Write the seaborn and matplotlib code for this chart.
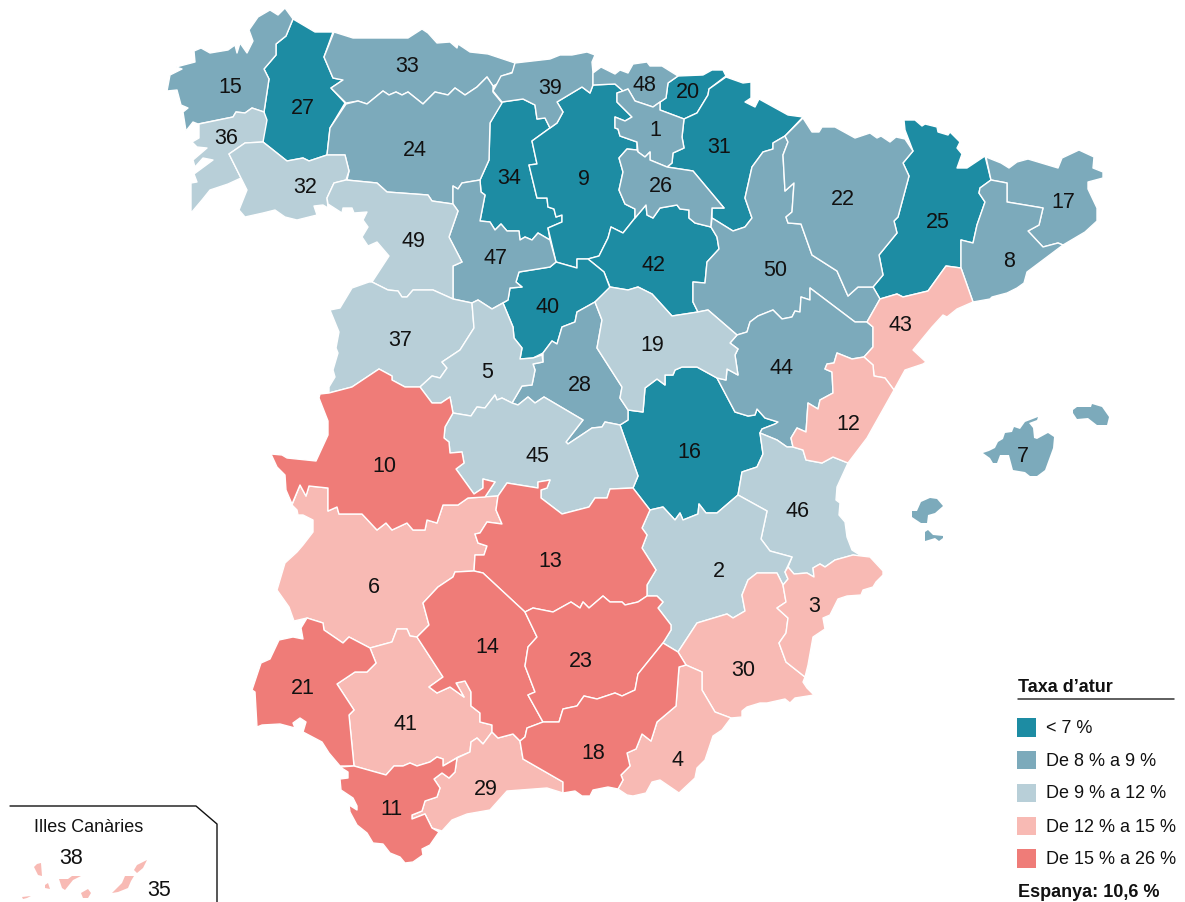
import matplotlib
matplotlib.use('Agg')
import matplotlib.pyplot as plt
from matplotlib.patches import Rectangle
import seaborn as sns

# ============================================================
# Data: unemployment classes and province outlines (image pixels)
# ============================================================
legend_labels = ['< 7 %', 'De 8 % a 9 %', 'De 9 % a 12 %', 'De 12 % a 15 %', 'De 15 % a 26 %']
legend_colors = ['#1d8ca3', '#7caabb', '#b8cfd8', '#f8bab4', '#ef7c78']

class_1 = [27, 34, 9, 20, 31, 42, 40, 25, 16]
class_2 = [15, 33, 24, 39, 48, 1, 26, 47, 28, 50, 22, 44, 17, 8, 7]
class_3 = [36, 32, 49, 37, 5, 19, 45, 46, 2]
class_4 = [43, 12, 6, 41, 30, 3, 4, 29, 38, 35]
class_5 = [10, 13, 14, 23, 21, 18, 11]

label_ids = [15, 27, 33, 36, 24, 39, 48, 20, 1, 34, 9, 31, 26, 22, 17, 32, 49, 47, 42, 25, 50, 8, 40, 43, 37,
             19, 5, 44, 28, 12, 45, 16, 10, 46, 13, 2, 6, 3, 14, 23, 30, 21, 41, 18, 4, 29, 11, 7, 38, 35]
label_x = [230, 303, 407, 226, 415, 550, 644, 688, 655, 509, 584, 719, 661, 843, 1063, 305, 413, 496, 654, 938, 775, 1009, 548, 900, 400,
           652, 487, 782, 580, 848, 537, 689, 384, 798, 550, 719, 374, 814, 487, 581, 743, 303, 405, 593, 677, 486, 391, 1023, 71, 159]
label_y = [86, 107, 65, 137, 149, 87, 84, 91, 129, 177, 178, 146, 185, 198, 201, 186, 240, 257, 264, 221, 269, 260, 306, 324, 339,
           344, 371, 367, 384, 423, 455, 451, 465, 510, 560, 570, 586, 605, 646, 660, 669, 687, 723, 752, 759, 788, 808, 455, 857, 889]

p15 = [(285,8),(293,19),(286,36),(276,44),(276,55),(264,69),(269,79),(264,112),(252,108),(245,113),(236,112),(233,117),(198,124),(193,122),(186,131),(183,112),(188,108),(181,105),(177,90),(167,91),(170,75),(182,69),(176,67),(195,62),(194,51),(201,48),(210,53),(228,50),(235,45),(237,53),(240,43),(247,53),(253,41),(249,30),(258,17),(270,10),(278,15)]
p27 = [(293,19),(315,32),(333,32),(324,57),(333,78),(343,80),(331,88),(345,103),(330,128),(327,155),(309,161),(303,158),(287,161),(263,142),(264,112),(269,79),(264,69),(276,55),(276,44),(286,36)]
p36 = [(264,112),(267,120),(263,142),(245,143),(229,154),(241,178),(228,184),(210,190),(202,200),(191,213),(191,183),(197,182),(194,174),(213,160),(203,158),(195,167),(193,160),(207,148),(197,147),(192,142),(199,138),(199,124),(233,117),(236,112),(245,113),(252,108)]
p32 = [(263,142),(287,161),(303,158),(309,161),(327,155),(345,155),(349,171),(346,180),(334,183),(327,198),(328,208),(323,205),(314,206),(317,215),(297,220),(285,217),(275,210),(263,213),(245,217),(239,210),(247,190),(241,178),(229,154),(245,143)]
p33 = [(334,32),(353,38),(408,38),(422,29),(428,33),(437,43),(450,42),(457,48),(458,44),(470,52),(488,54),(515,63),(513,72),(502,76),(499,83),(493,86),(487,77),(477,87),(465,95),(455,88),(448,95),(435,92),(423,104),(408,92),(402,95),(396,92),(389,95),(383,91),(367,104),(358,101),(346,103),(331,88),(343,80),(333,78),(324,57)]
p24 = [(346,104),(358,101),(367,104),(383,91),(389,95),(396,92),(402,95),(408,92),(423,104),(435,92),(448,95),(455,88),(465,95),(477,87),(487,77),(493,86),(493,92),(502,103),(490,123),(489,160),(480,180),(462,183),(458,189),(453,186),(453,204),(432,201),(428,195),(387,192),(377,183),(347,180),(349,171),(345,155),(327,155),(330,128)]
p49 = [(346,180),(377,183),(387,192),(428,195),(432,201),(453,204),(458,211),(449,237),(462,262),(453,266),(453,299),(433,290),(413,290),(407,297),(402,297),(398,291),(388,290),(372,282),(389,256),(377,242),(368,246),(362,237),(368,227),(363,220),(367,212),(354,213),(352,208),(343,208),(342,213),(328,204),(327,198),(334,183)]
p39 = [(515,63),(550,59),(560,55),(572,55),(587,52),(595,55),(592,62),(593,73),(593,85),(590,93),(582,87),(557,102),(563,112),(557,123),(550,128),(545,118),(537,119),(535,105),(523,99),(502,102),(493,91),(501,76),(512,73)]
p48 = [(593,73),(601,67),(615,74),(620,70),(628,73),(633,64),(647,62),(650,66),(662,66),(678,76),(668,83),(666,98),(653,107),(635,101),(628,89),(623,91),(615,84),(593,85)]
p20 = [(678,76),(703,75),(712,70),(723,70),(726,76),(709,89),(708,95),(697,113),(684,119),(660,110),(660,102),(666,98),(668,83)]
p31 = [(726,77),(743,83),(751,82),(751,98),(745,102),(755,107),(759,99),(788,115),(803,117),(785,136),(773,143),(773,149),(763,152),(752,167),(745,198),(752,218),(745,227),(733,231),(712,218),(712,208),(724,208),(693,171),(667,167),(672,163),(673,153),(684,148),(682,137),(684,119),(697,113),(708,95),(709,89)]
p1 = [(623,91),(628,89),(635,101),(653,107),(660,102),(660,110),(684,119),(682,137),(684,148),(673,153),(672,163),(667,167),(650,160),(650,152),(645,157),(638,152),(637,142),(620,136),(618,129),(615,128),(615,117),(625,121),(632,117),(617,102),(617,93)]
p9 = [(557,102),(582,87),(590,93),(593,85),(615,84),(623,91),(617,93),(617,102),(632,117),(625,121),(615,117),(615,128),(618,129),(620,136),(637,142),(637,150),(627,149),(619,158),(623,172),(619,190),(625,204),(635,209),(635,218),(623,233),(611,227),(608,238),(599,256),(588,259),(577,259),(577,268),(556,262),(548,228),(562,222),(562,215),(556,217),(554,209),(548,207),(547,198),(537,198),(529,165),(537,164),(532,141),(550,128),(557,123),(563,112)]
p34 = [(502,102),(523,99),(535,105),(537,119),(545,118),(550,128),(532,141),(537,164),(529,165),(537,198),(547,198),(548,207),(554,209),(556,217),(562,215),(562,222),(548,228),(550,240),(538,233),(532,240),(525,237),(520,240),(519,231),(507,231),(501,224),(495,230),(490,222),(480,221),(485,195),(481,192),(480,180),(489,160),(490,123)]
p47 = [(453,186),(458,189),(462,183),(480,180),(481,192),(485,195),(480,221),(490,222),(495,230),(501,224),(507,231),(519,231),(520,240),(525,237),(532,240),(538,233),(550,240),(556,262),(550,267),(519,272),(516,282),(522,287),(510,288),(508,300),(492,309),(478,300),(472,303),(453,299),(453,266),(462,262),(449,237),(458,211),(453,204)]
p26 = [(627,149),(637,150),(638,152),(645,157),(650,152),(650,160),(667,167),(693,171),(724,208),(712,208),(711,227),(695,223),(689,218),(689,210),(680,209),(677,205),(660,208),(653,218),(647,215),(646,205),(635,218),(635,209),(625,204),(619,190),(623,172),(619,158)]
p42 = [(588,259),(599,256),(608,238),(611,227),(623,233),(635,218),(646,205),(647,215),(653,218),(660,208),(677,205),(680,209),(689,210),(689,218),(695,223),(711,227),(717,237),(719,249),(707,262),(705,283),(693,282),(693,302),(698,312),(672,316),(652,294),(638,287),(628,290),(610,287),(604,272)]
p40 = [(556,262),(577,268),(577,259),(588,259),(604,272),(610,288),(595,302),(577,312),(575,322),(562,327),(557,344),(552,341),(543,353),(533,358),(520,359),(522,348),(514,338),(513,327),(503,303),(508,300),(510,288),(522,287),(516,282),(519,272),(550,267)]
p37 = [(372,282),(388,290),(398,291),(402,297),(407,297),(413,290),(433,290),(453,299),(472,303),(474,328),(460,350),(442,362),(447,368),(440,378),(432,376),(420,387),(405,387),(392,380),(392,376),(379,369),(352,387),(329,393),(329,387),(335,377),(333,370),(338,353),(336,348),(339,332),(330,310),(340,308),(352,288),(369,282)]
p5 = [(472,303),(478,300),(492,309),(503,303),(513,327),(514,338),(522,348),(520,359),(533,358),(542,355),(543,362),(533,364),(535,370),(532,385),(522,386),(512,403),(502,398),(497,400),(495,395),(485,408),(477,407),(471,416),(453,413),(450,397),(441,403),(432,403),(420,387),(432,376),(440,378),(447,368),(442,362),(460,350),(474,328)]
p28 = [(595,302),(602,320),(597,348),(622,387),(620,398),(628,410),(628,420),(620,425),(605,422),(602,427),(592,428),(568,444),(566,442),(583,420),(544,397),(535,403),(528,397),(518,405),(512,403),(522,386),(532,385),(535,370),(533,364),(543,362),(543,353),(552,341),(557,344),(562,327),(575,322),(577,312)]
p19 = [(595,302),(610,287),(628,290),(638,287),(652,294),(672,316),(698,312),(708,310),(737,335),(730,343),(738,349),(735,355),(738,375),(727,369),(726,380),(717,378),(697,367),(682,367),(675,370),(673,375),(665,375),(665,385),(657,379),(645,388),(643,412),(628,410),(620,398),(622,387),(597,348),(602,320)]
p50 = [(785,136),(788,142),(783,155),(785,191),(794,183),(792,212),(786,217),(788,223),(801,224),(812,255),(837,271),(848,296),(858,287),(873,287),(880,299),(867,322),(855,322),(810,288),(810,300),(801,297),(800,312),(795,311),(792,317),(782,319),(773,310),(758,316),(750,322),(747,332),(737,335),(708,310),(698,312),(693,302),(693,282),(705,283),(707,262),(719,249),(717,237),(711,227),(712,218),(733,231),(745,227),(752,218),(745,198),(752,167),(763,152),(773,149),(773,143)]
p22 = [(803,118),(812,132),(819,132),(822,127),(835,127),(855,138),(870,133),(877,138),(881,136),(890,142),(896,137),(905,139),(913,151),(903,163),(909,176),(898,217),(894,221),(897,233),(879,255),(883,275),(873,287),(858,287),(848,296),(837,271),(812,255),(801,224),(788,223),(786,217),(792,212),(794,183),(785,191),(783,155),(788,142),(785,136)]
p25 = [(904,120),(915,120),(922,126),(925,124),(937,127),(938,132),(948,135),(950,132),(960,142),(957,148),(962,154),(957,168),(967,168),(985,156),(991,180),(980,188),(979,193),(985,202),(977,225),(973,243),(961,240),(961,268),(946,266),(928,291),(903,297),(897,294),(880,299),(873,287),(883,275),(879,255),(897,233),(894,221),(898,217),(909,176),(903,163),(913,151),(905,130)]
p17 = [(986,157),(1001,163),(1009,168),(1017,162),(1028,159),(1058,168),(1062,158),(1079,150),(1094,157),(1093,168),(1103,172),(1103,178),(1088,182),(1088,189),(1097,208),(1097,221),(1085,232),(1063,245),(1058,243),(1043,247),(1028,231),(1039,225),(1043,208),(1007,202),(1007,183),(991,180)]
p8 = [(991,180),(1007,183),(1007,202),(1043,208),(1039,225),(1028,231),(1043,247),(1058,243),(1063,245),(1027,272),(1024,283),(1017,288),(1007,293),(992,297),(990,299),(973,302),(961,268),(961,240),(973,243),(977,225),(985,202),(979,193),(980,188)]
p43 = [(946,266),(961,268),(973,302),(957,309),(947,317),(943,315),(932,327),(913,350),(926,362),(923,364),(905,370),(894,390),(885,378),(874,376),(873,365),(864,357),(873,347),(873,327),(867,322),(880,299),(897,294),(903,297),(928,291)]
p44 = [(855,322),(810,288),(810,300),(801,297),(800,312),(795,311),(792,317),(782,319),(773,310),(758,316),(750,322),(747,332),(737,335),(730,343),(738,349),(735,355),(738,375),(727,369),(726,380),(717,378),(735,412),(748,416),(755,415),(757,409),(765,418),(778,422),(775,424),(762,429),(760,433),(777,440),(787,447),(793,447),(791,438),(797,428),(806,432),(808,403),(818,409),(820,400),(833,393),(832,372),(825,369),(827,364),(834,363),(837,353),(852,359),(864,357),(873,347),(873,327),(867,322)]
p12 = [(837,353),(852,359),(864,357),(873,365),(874,376),(885,378),(894,390),(867,438),(848,463),(833,457),(822,463),(806,460),(803,450),(793,447),(791,438),(797,428),(806,432),(808,403),(818,409),(820,400),(833,393),(832,372),(825,369),(827,364),(834,363)]
p16 = [(717,378),(735,412),(748,416),(755,415),(757,409),(765,418),(778,422),(775,424),(762,429),(760,433),(763,454),(757,467),(742,472),(738,495),(717,513),(706,513),(699,504),(698,514),(683,520),(680,513),(675,520),(663,507),(650,510),(633,488),(638,476),(620,425),(628,420),(628,410),(643,412),(645,388),(657,379),(665,385),(665,375),(673,375),(675,370),(682,367),(697,367)]
p45 = [(453,413),(471,416),(477,407),(485,408),(495,395),(497,400),(502,398),(512,403),(518,405),(528,397),(535,403),(544,397),(583,420),(566,442),(568,444),(592,428),(602,427),(605,422),(620,425),(638,476),(633,488),(610,489),(607,498),(595,498),(589,507),(562,514),(541,498),(541,490),(547,488),(550,480),(538,482),(538,488),(507,483),(498,496),(485,497),(495,482),(483,479),(483,488),(474,494),(456,469),(464,463),(462,452),(450,453),(449,442),(444,438),(445,427)]
p10 = [(379,369),(392,376),(392,380),(405,387),(420,387),(432,403),(441,403),(450,397),(453,413),(445,427),(444,438),(449,442),(450,453),(462,452),(464,463),(456,469),(474,494),(483,488),(483,479),(495,482),(485,497),(468,498),(458,505),(443,505),(437,523),(427,520),(425,530),(413,530),(407,523),(392,530),(386,523),(377,530),(362,514),(339,514),(337,507),(328,511),(328,488),(309,486),(306,496),(300,485),(292,504),(286,490),(285,475),(277,467),(271,454),(282,455),(287,458),(316,461),(328,435),(328,421),(319,398),(320,394),(329,393),(352,387)]
p6 = [(300,485),(306,496),(309,486),(328,488),(328,511),(337,507),(339,514),(362,514),(377,530),(386,523),(392,530),(407,523),(413,530),(425,530),(427,520),(437,523),(443,505),(458,505),(468,498),(498,496),(496,510),(502,524),(487,522),(480,533),(475,534),(478,543),(487,546),(484,555),(475,555),(474,571),(455,572),(453,577),(438,587),(423,603),(429,625),(417,637),(410,636),(407,629),(397,629),(392,642),(370,648),(349,637),(343,643),(324,630),(323,623),(307,618),(294,621),(289,607),(277,590),(285,563),(297,552),(303,545),(313,532),(313,520),(303,515),(298,515),(297,510),(292,505)]
p13 = [(507,483),(538,488),(538,482),(550,480),(547,488),(541,490),(541,498),(562,514),(589,507),(595,498),(607,498),(610,489),(633,488),(650,510),(642,528),(647,535),(642,548),(656,570),(647,585),(647,596),(638,602),(625,605),(622,602),(610,602),(603,596),(589,608),(583,602),(580,608),(571,602),(553,612),(533,608),(525,612),(483,573),(474,571),(475,555),(484,555),(487,546),(478,543),(475,534),(480,533),(487,522),(502,524),(496,510),(498,496)]
p2 = [(650,510),(663,507),(675,520),(680,513),(683,520),(698,514),(699,504),(706,513),(717,513),(738,495),(767,511),(761,539),(770,551),(792,557),(785,572),(788,579),(783,585),(777,573),(757,573),(748,580),(742,595),(745,611),(733,618),(727,614),(697,623),(678,652),(663,643),(671,630),(671,625),(658,608),(663,602),(657,596),(647,596),(647,585),(656,570),(642,548),(647,535),(642,528)]
p46 = [(760,433),(777,440),(787,447),(793,447),(803,450),(806,460),(822,463),(833,457),(848,463),(837,487),(836,500),(840,503),(839,515),(845,522),(847,537),(852,550),(863,557),(853,555),(835,560),(825,567),(820,564),(813,568),(814,577),(807,573),(794,574),(788,567),(792,557),(770,551),(761,539),(767,511),(738,495),(742,472),(757,467),(763,454)]
p14 = [(455,572),(474,571),(483,573),(525,612),(537,637),(528,647),(525,666),(535,692),(528,695),(543,722),(527,728),(525,737),(520,741),(513,734),(498,738),(492,732),(492,725),(480,722),(480,713),(471,706),(471,692),(465,681),(456,683),(464,697),(450,687),(437,693),(429,687),(443,677),(417,637),(429,625),(423,603),(438,587),(453,577)]
p23 = [(525,612),(533,608),(553,612),(571,602),(580,608),(583,602),(589,608),(603,596),(610,602),(622,602),(625,605),(638,602),(647,596),(657,596),(663,602),(658,608),(671,625),(671,630),(663,643),(638,674),(635,690),(622,696),(615,693),(597,699),(584,696),(577,706),(563,709),(559,722),(543,722),(528,695),(535,692),(525,666),(528,647),(537,637)]
p18 = [(543,722),(559,722),(563,709),(577,706),(584,696),(597,699),(615,693),(622,696),(635,690),(638,674),(663,643),(678,652),(686,665),(679,667),(676,706),(657,722),(651,741),(642,734),(636,749),(627,753),(630,766),(621,775),(623,780),(618,789),(608,787),(593,790),(590,796),(582,796),(575,791),(563,793),(563,782),(523,759),(520,741),(525,737),(527,728)]
p4 = [(679,667),(686,665),(702,672),(702,690),(715,712),(731,718),(722,730),(713,736),(705,760),(697,768),(695,778),(679,793),(660,780),(652,782),(646,793),(633,796),(627,795),(618,789),(623,780),(621,775),(630,766),(627,753),(636,749),(642,734),(651,741),(657,722),(676,706)]
p30 = [(678,652),(697,623),(727,614),(733,618),(745,611),(742,595),(748,580),(757,573),(777,573),(783,585),(786,602),(777,608),(788,618),(786,633),(779,643),(786,662),(805,677),(803,682),(807,688),(814,695),(795,698),(790,703),(785,699),(767,703),(760,703),(747,707),(742,711),(742,717),(731,718),(715,712),(702,690),(702,672),(686,665)]
p3 = [(783,585),(788,579),(785,572),(788,567),(794,574),(807,573),(814,577),(813,568),(820,564),(825,567),(835,560),(853,555),(870,557),(883,571),(883,575),(876,582),(873,587),(863,590),(861,595),(847,596),(838,599),(830,615),(823,618),(825,629),(813,637),(808,665),(805,677),(786,662),(779,643),(786,633),(788,618),(777,608),(786,602)]
p21 = [(307,618),(323,623),(324,630),(343,643),(349,637),(370,648),(376,663),(367,672),(355,672),(337,684),(354,710),(349,715),(354,766),(340,766),(329,753),(322,742),(303,732),(306,722),(300,718),(293,723),(295,728),(280,724),(262,725),(257,727),(255,692),(252,690),(261,663),(270,659),(279,640),(293,637),(303,639),(301,628)]
p41 = [(370,648),(392,642),(397,629),(407,629),(410,636),(417,637),(443,677),(429,687),(437,693),(450,687),(464,697),(456,683),(465,681),(471,692),(471,706),(480,713),(480,722),(492,725),(492,732),(483,744),(477,738),(471,742),(470,752),(458,757),(443,766),(443,759),(437,757),(430,762),(417,766),(410,763),(403,766),(394,766),(386,775),(354,766),(349,715),(354,710),(337,684),(355,672),(367,672),(376,663)]
p11 = [(354,766),(386,775),(394,766),(403,766),(410,763),(417,766),(430,762),(437,757),(443,759),(443,766),(457,758),(455,772),(449,778),(442,773),(434,779),(440,788),(437,797),(425,801),(422,811),(412,815),(412,819),(425,814),(432,828),(439,832),(430,845),(422,849),(423,855),(413,862),(405,863),(400,857),(390,853),(383,844),(373,843),(367,833),(357,825),(350,812),(349,805),(357,810),(357,806),(353,798),(341,790),(340,779),(348,778),(348,772),(340,767)]
p29 = [(457,758),(470,752),(471,742),(477,738),(483,744),(492,732),(498,738),(513,734),(520,741),(523,759),(563,782),(563,793),(547,788),(507,791),(490,810),(467,814),(452,820),(442,831),(432,828),(425,814),(412,819),(412,815),(422,811),(425,801),(437,797),(440,788),(434,779),(442,773),(449,778),(455,772)]
p7 = [[(983,453),(989,451),(995,448),(998,442),(1003,439),(1005,433),(1012,432),(1014,427),(1020,429),(1025,422),(1038,417),(1037,420),(1029,423),(1033,428),(1034,438),(1037,439),(1048,433),(1054,437),(1053,448),(1045,470),(1037,476),(1030,476),(1025,472),(1013,470),(1009,455),(1000,455),(997,463),(993,463),(990,458)],
      [(1073,410),(1077,407),(1091,407),(1092,404),(1102,407),(1109,417),(1107,425),(1097,425),(1088,418),(1077,419),(1073,413)]]
p7b = [[(912,511),(917,511),(921,502),(930,498),(937,499),(943,506),(935,513),(928,515),(927,523),(921,523),(912,517)],
       [(925,532),(928,530),(933,535),(943,536),(943,538),(939,541),(935,538),(925,541)]]
p38 = [[(37,864),(41,863),(42,876),(38,875),(34,867)],[(45,885),(48,883),(50,889),(45,888)],
       [(59,879),(68,879),(72,876),(81,876),(73,880),(65,890),(62,888)],[(81,893),(88,889),(91,893),(88,898),(83,898)],
       [(22,897),(31,896),(27,898),(23,899)]]
p35 = [[(112,893),(122,883),(125,876),(134,876),(131,881),(128,888),(118,892)],[(134,870),(137,865),(147,860),(143,868),(137,873)]]

province_shapes = {
    15: [p15], 27: [p27], 36: [p36], 32: [p32], 33: [p33], 24: [p24], 49: [p49], 39: [p39], 48: [p48], 20: [p20],
    31: [p31], 1: [p1], 9: [p9], 34: [p34], 47: [p47], 26: [p26], 42: [p42], 40: [p40], 37: [p37], 5: [p5],
    28: [p28], 19: [p19], 50: [p50], 22: [p22], 25: [p25], 17: [p17], 8: [p8], 43: [p43], 44: [p44], 12: [p12],
    16: [p16], 45: [p45], 10: [p10], 6: [p6], 13: [p13], 2: [p2], 46: [p46], 14: [p14], 23: [p23], 18: [p18],
    4: [p4], 30: [p30], 3: [p3], 21: [p21], 41: [p41], 11: [p11], 29: [p29], 7: p7 + p7b, 38: p38, 35: p35,
}

# ============================================================
# Figure
# ============================================================
sns.set_theme(style='white')
plt.rcParams['font.family'] = ['Liberation Sans', 'DejaVu Sans']
palette = sns.color_palette(legend_colors)
TEXT = '#111111'

fig = plt.figure(figsize=(11.85, 9.02), dpi=100)
ax = fig.add_axes([0, 0, 1, 1])
ax.set_xlim(0, 1185)
ax.set_ylim(902, 0)
ax.axis('off')

classes = [class_1, class_2, class_3, class_4, class_5]
for color, members in zip(palette, classes):
    for pid in members:
        # islands have no white coast line eating into them
        edge = 0.0 if pid in (7, 38, 35) else 1.0
        for shape in province_shapes[pid]:
            xs, ys = zip(*shape)
            ax.fill(xs, ys, facecolor=color, edgecolor='white', linewidth=edge, joinstyle='round', zorder=2)

for pid, x, y in zip(label_ids, label_x, label_y):
    ax.text(x, y + 1.5, str(pid), fontsize=15.5, color=TEXT, ha='center', va='center', zorder=4)

# Canary Islands box
ax.plot([10, 196, 217, 217], [806, 806, 824, 902], color='#111111', linewidth=1.0, zorder=3)
ax.text(34, 827, 'Illes Canàries', fontsize=13, color=TEXT, ha='left', va='center')

# Legend
ax.text(1018, 687, 'Taxa d’atur', fontsize=13, fontweight='bold', color=TEXT, ha='left', va='center')
ax.plot([1018, 1174], [698.5, 698.5], color='#333333', linewidth=1.1)
legend_y = [727.5, 760, 793, 826, 858.5]
sns.scatterplot(x=[1026.5] * 5, y=legend_y, hue=legend_labels, hue_order=legend_labels, palette=legend_colors,
                marker='s', s=187, linewidth=0, legend=False, ax=ax, zorder=3)
clip = Rectangle((1000, 700), 175, 190, transform=ax.transData)
for label, y in zip(legend_labels, legend_y):
    t = ax.text(1046, y + 1, label, fontsize=13, color=TEXT, ha='left', va='center')
    t.set_clip_path(clip)
ax.text(1018, 892.5, 'Espanya: 10,6 %', fontsize=13, fontweight='bold', color=TEXT, ha='left', va='center')

ax.set_xlim(0, 1185)
ax.set_ylim(902, 0)
plt.savefig('out.png', dpi=100)
plt.close()
